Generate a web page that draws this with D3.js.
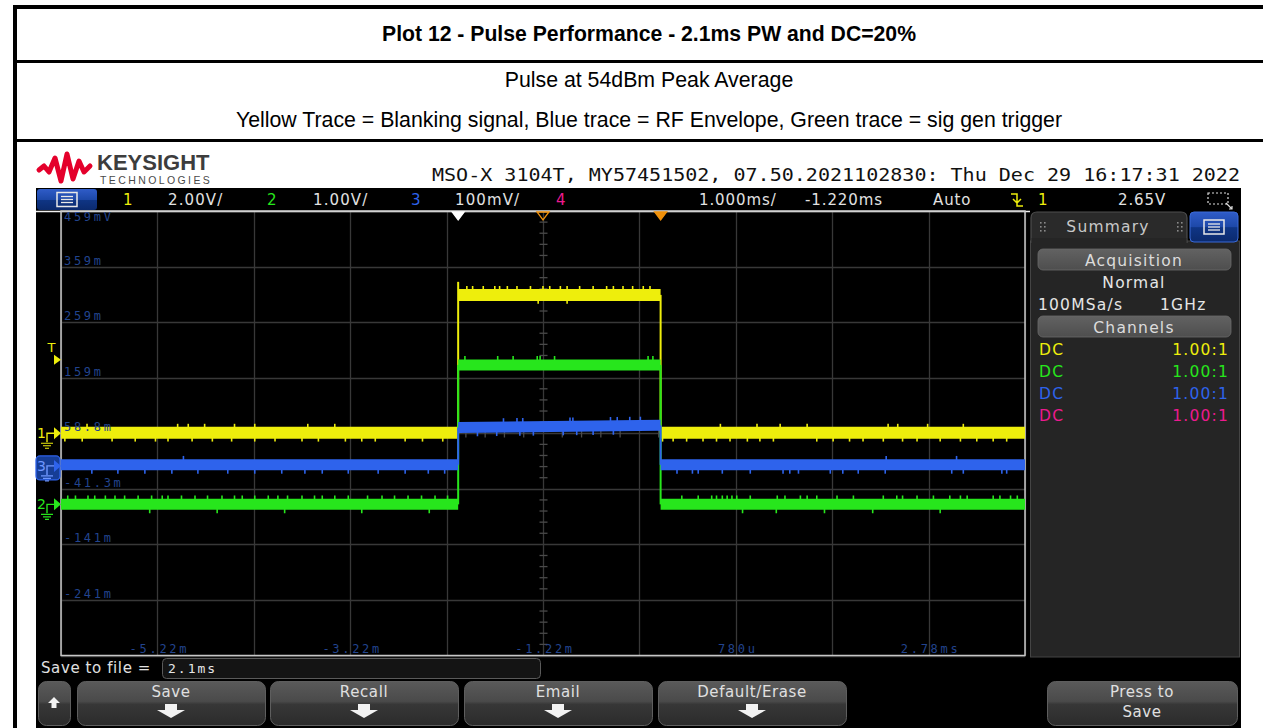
<!DOCTYPE html>
<html>
<head>
<meta charset="utf-8">
<script src="https://cdn.jsdelivr.net/npm/d3@7/dist/d3.min.js"></script>
<style>
html,body{margin:0;padding:0;background:#fff;overflow:hidden;}
svg{display:block;}
</style>
</head>
<body>
<svg id="chart" width="1263" height="728"></svg>
<script>
// ================= DATA =================
const titleText = "Plot 12 - Pulse Performance - 2.1ms PW and DC=20%";
const subtitleText = "Pulse at 54dBm Peak Average";
const legendText = "Yellow Trace = Blanking signal, Blue trace = RF Envelope, Green trace = sig gen trigger";
const instrumentText = "MSO-X 3104T, MY57451502, 07.50.2021102830: Thu Dec 29 16:17:31 2022";

const channelNames = ["1", "2", "3", "4"];
const channelScaleTexts = ["2.00V/", "1.00V/", "100mV/", ""];
const timebaseText = "1.000ms/";
const delayText = "-1.220ms";
const triggerModeText = "Auto";
const triggerSourceText = "1";
const triggerLevelText = "2.65V";

// horizontal: 1 ms/div, centre -1.22 ms, 10 divisions
const msPerDiv = 1.0;
const timeCentre = -1.22;
const timeTickValues = [-5.22, -3.22, -1.22, 0.78, 2.78];
const timeTickLabels = ["-5.22m", "-3.22m", "-1.22m", "780u", "2.78ms"];

// vertical: 8 divisions
const ch1VoltsPerDiv = 2.0, ch1Centre = 0.0;          // V
const ch2VoltsPerDiv = 1.0, ch2Centre = 1.28;         // V
const ch3MilliVoltsPerDiv = 100, ch3Centre = 58.8;    // mV
const ch3TickValues = [458.8, 358.8, 258.8, 158.8, 58.8, -41.3, -141.3, -241.3];
const ch3TickLabels = ["459mV", "359m", "259m", "159m", "58.8m", "-41.3m", "-141m", "-241m"];

const triggerLevel = 2.65;          // V on channel 1
const whiteMarkerTime = -2.10;      // ms
const delayMarkerTime = -1.22;      // ms
const triggerMarkerTime = 0.0;      // ms

// pulse: segment boundaries (ms) and levels per segment
const edgeTimes = [-6.22, -2.10, 0.00, 3.78];
const ch1Levels = [0.02, 4.98, 0.02];     // V  (yellow, blanking)
const ch1RisePeak = 5.45;                 // V  overshoot on rising edge
const ch2Levels = [0.0, 2.51, 0.0];       // V  (green, sig gen trigger)
const ch3LevelStart = [2, 69, 2];         // mV (blue, RF envelope) at segment start
const ch3LevelEnd = [2, 73, 2];           // mV at segment end

// glitches seen on the traces (ms)
const ch1SpikesDown = [-6.18,-6.00,-5.69,-5.45,-5.24,-5.11,-4.86,-4.65,-4.45,-4.21,-4.00,-3.72,-3.55,-3.27,-3.10,-2.96,-2.65,-2.47,-2.26,
  -1.27,-0.97, 0.02,0.13,0.27,0.44,0.58,0.72,0.90,1.03,1.17,1.62,1.79,1.96,2.10,2.31,2.51,2.66,2.90,3.11,3.28,3.45,3.59];
const ch1SpikesUp = [-5.95,-5.01,-4.90,-4.73,-4.42,-4.21,-3.66,-3.38,-2.01,-1.95,-1.84,-1.72,-1.67,-1.59,-1.49,-1.35,-1.22,-1.15,
  -1.04,-0.97,-0.84,-0.70,-0.56,-0.49,-0.39,-0.29,-0.18,-0.11,0.62,1.00,1.24,1.52,2.36,2.46,2.77,3.14];
const ch2SpikesUp = [-6.15,-6.07,-5.94,-5.87,-5.76,-5.66,-5.56,-5.42,-5.28,-5.17,-5.11,-4.97,-4.83,-4.70,-4.55,-4.42,-4.34,-4.21,
  -4.07,-3.97,-3.87,-3.72,-3.59,-3.51,-3.38,-3.24,-3.04,-2.89,-2.76,-2.62,-2.48,-2.34,-2.21,-2.03,-1.69,-1.53,-1.28,-1.25,-1.10,
  -0.13,-0.08,0.22,0.39,0.53,0.58,0.64,0.69,0.74,0.79,0.93,1.21,1.29,1.45,1.52,1.62,1.83,2.00,2.31,2.45,2.51,2.66,2.83,3.00,3.11,
  3.18,3.45,3.52,3.63,3.70];
const ch2SpikesDown = [-5.30,-4.60,-3.90,-3.10,-2.40,0.85,1.20,1.70,2.20,2.90];
const ch3SpikesDown = [-5.90,-5.63,-5.35,-5.07,-4.80,-4.49,-4.21,-3.93,-3.69,-3.51,-3.24,-2.93,-2.65,-2.41,-2.24,-1.90,-1.70,-1.46,
  -1.32,-1.01,-0.87,-0.70,-0.49,0.17,0.33,0.39,0.64,0.93,1.27,1.34,1.43,1.76,1.89,2.05,2.33,3.02,3.14,3.54,3.59];
const ch3SpikesUp = [-4.95,-1.63,-1.49,-1.43,-0.94,-0.91,-0.52,-0.45,-0.32,-0.21,2.34,3.07];
const ch1SpikeAmp = 0.32, ch2SpikeAmp = 0.16, ch3SpikeAmp = 16;

// summary panel
const summaryTitle = "Summary";
const acquisitionHeader = "Acquisition";
const acquisitionMode = "Normal";
const sampleRateText = "100MSa/s";
const bandwidthText = "1GHz";
const channelsHeader = "Channels";
const channelCoupling = ["DC", "DC", "DC", "DC"];
const channelProbeRatio = ["1.00:1", "1.00:1", "1.00:1", "1.00:1"];

// soft keys
const saveLabel = "Save to file =";
const saveFileName = "2.1ms";
const softKeyLabels = ["Save", "Recall", "Email", "Default/Erase"];
const pressToSaveLabel = ["Press to", "Save"];

// ================= DRAWING =================
const W = 1263, H = 728;
const COL = {
  yellow: "#eeee0c", green: "#27e61c", blue: "#2e63ec", magenta: "#ec1a8e",
  axis: "#22448e", grid: "#383838"
};
const UI = "'DejaVu Sans', 'Liberation Sans', sans-serif";
const MONO = "'DejaVu Sans Mono', 'Liberation Mono', monospace";
const ARIAL = "'Liberation Sans', Arial, sans-serif";

const svg = d3.select("#chart");
const defs = svg.append("defs");

function vgrad(id, stops) {
  const g = defs.append("linearGradient").attr("id", id).attr("x1", 0).attr("y1", 0).attr("x2", 0).attr("y2", 1);
  stops.forEach(s => g.append("stop").attr("offset", s[0]).attr("stop-color", s[1]));
}
vgrad("btnGrad", [["0%", "#5a5a5a"], ["45%", "#4a4a4a"], ["52%", "#373737"], ["100%", "#2b2b2b"]]);
vgrad("blueGrad", [["0%", "#2f5cc8"], ["50%", "#1d48a8"], ["52%", "#0f3585"], ["100%", "#0b2a6e"]]);
vgrad("pillGrad", [["0%", "#626262"], ["100%", "#4e4e4e"]]);

svg.append("rect").attr("width", W).attr("height", H).attr("fill", "#fff");

// ---------- header table ----------
const blk = (x0, y0, w, h) => svg.append("rect").attr("x", x0).attr("y", y0).attr("width", w).attr("height", h).attr("fill", "#000");
blk(13, 5, W - 13, 4);
blk(13, 5, 4, H - 5);
blk(13, 60, W - 13, 3);
blk(13, 139, W - 13, 3);

svg.append("text").attr("x", 649).attr("y", 41).attr("text-anchor", "middle")
  .attr("font-family", ARIAL).attr("font-weight", "bold").attr("font-size", 21.2).attr("fill", "#000").text(titleText);
svg.append("text").attr("x", 649).attr("y", 87).attr("text-anchor", "middle")
  .attr("font-family", ARIAL).attr("font-size", 21.3).attr("fill", "#000").text(subtitleText);
svg.append("text").attr("x", 649).attr("y", 127).attr("text-anchor", "middle")
  .attr("font-family", ARIAL).attr("font-size", 21.3).attr("fill", "#000").text(legendText);

// ---------- scope screen ----------
svg.append("rect").attr("x", 36).attr("y", 188).attr("width", 1205).attr("height", H - 188).attr("fill", "#000");

// logo
svg.append("path")
  .attr("d", "M39,170 L44,166 L49,172 L55,158 L61,181 L67,154 L73,179 L79,161 L84,172 L90,166")
  .attr("fill", "none").attr("stroke", "#e4002b").attr("stroke-width", 5).attr("stroke-linejoin", "round").attr("stroke-linecap", "round");
svg.append("text").attr("x", 97).attr("y", 170).attr("font-family", ARIAL).attr("font-weight", "bold")
  .attr("font-size", 22).attr("fill", "#3d3d3d").text("KEYSIGHT");
svg.append("text").attr("x", 100).attr("y", 184).attr("font-family", ARIAL)
  .attr("font-size", 10.5).attr("letter-spacing", 2.4).attr("fill", "#4a4a4a").text("TECHNOLOGIES");

svg.append("text").attr("x", 432).attr("y", 181).attr("font-family", MONO).attr("font-size", 17)
  .attr("textLength", 808).attr("lengthAdjust", "spacingAndGlyphs").attr("fill", "#111").text(instrumentText);

// menu icon helper
function menuIcon(cx, cy) {
  const g = svg.append("g");
  g.append("rect").attr("x", cx - 10).attr("y", cy - 7).attr("width", 20).attr("height", 14)
    .attr("fill", "none").attr("stroke", "#e8e8e8").attr("stroke-width", 1.5);
  [-3, 0, 3].forEach(d => g.append("line").attr("x1", cx - 6).attr("x2", cx + 6).attr("y1", cy + d).attr("y2", cy + d)
    .attr("stroke", "#e8e8e8").attr("stroke-width", 1.3));
}

// status bar
svg.append("rect").attr("x", 37).attr("y", 189).attr("width", 60).attr("height", 21).attr("rx", 3).attr("fill", "url(#blueGrad)");
menuIcon(67, 199.5);
const chCols = [COL.yellow, COL.green, COL.blue, COL.magenta];
const statusX = [[123, 168], [267, 313], [411, 455], [556, 600]];
channelNames.forEach((n, i) => {
  svg.append("text").attr("x", statusX[i][0]).attr("y", 205).attr("font-family", UI).attr("font-size", 15)
    .attr("fill", chCols[i]).text(n);
  svg.append("text").attr("x", statusX[i][1]).attr("y", 205).attr("font-family", UI).attr("font-size", 15)
    .attr("letter-spacing", 1.1).attr("fill", "#e2e2e2").text(channelScaleTexts[i]);
});
const stText = (x0, t, c, anchor) => svg.append("text").attr("x", x0).attr("y", 205).attr("font-family", UI)
  .attr("font-size", 15).attr("letter-spacing", 0.9).attr("fill", c).attr("text-anchor", anchor || "start").text(t);
stText(699, timebaseText, "#e2e2e2");
stText(805, delayText, "#e2e2e2");
stText(933, triggerModeText, "#e2e2e2");
stText(1038, triggerSourceText, COL.yellow);
stText(1118, triggerLevelText, "#e2e2e2");
// falling edge trigger icon
svg.append("path").attr("d", "M1011,194 L1017,194 L1017,206 L1023,206 M1013,199 L1017,203 L1021,199")
  .attr("fill", "none").attr("stroke", COL.yellow).attr("stroke-width", 1.5);
// zoom box icon
svg.append("rect").attr("x", 1208).attr("y", 193).attr("width", 20).attr("height", 11)
  .attr("fill", "none").attr("stroke", "#ddd").attr("stroke-width", 1.2).attr("stroke-dasharray", "2,2");
svg.append("path").attr("d", "M1226,203 L1232,209 M1229,209 L1232,209 L1232,206")
  .attr("fill", "none").attr("stroke", "#ddd").attr("stroke-width", 1.2);

// ---------- plot area ----------
const L = 61, R = 1025, T = 211, B = 655.5;
const x = d3.scaleLinear().domain([timeCentre - 5 * msPerDiv, timeCentre + 5 * msPerDiv]).range([L, R]);
const y1 = d3.scaleLinear().domain([ch1Centre - 4 * ch1VoltsPerDiv, ch1Centre + 4 * ch1VoltsPerDiv]).range([B, T]);
const y2 = d3.scaleLinear().domain([ch2Centre - 4 * ch2VoltsPerDiv, ch2Centre + 4 * ch2VoltsPerDiv]).range([B, T]);
const y3 = d3.scaleLinear().domain([ch3Centre - 4 * ch3MilliVoltsPerDiv, ch3Centre + 4 * ch3MilliVoltsPerDiv]).range([B, T]);

const grid = svg.append("g");
d3.range(-5, 6).forEach(k => {
  const xx = Math.round(x(timeCentre + k * msPerDiv)) + 0.5;
  grid.append("line").attr("x1", xx).attr("x2", xx).attr("y1", T).attr("y2", B).attr("stroke", COL.grid).attr("stroke-width", 1.3);
});
d3.range(-4, 5).forEach(k => {
  const yy = Math.round(y3(ch3Centre + k * ch3MilliVoltsPerDiv)) + 0.5;
  grid.append("line").attr("x1", L).attr("x2", R).attr("y1", yy).attr("y2", yy).attr("stroke", COL.grid).attr("stroke-width", 1.3);
});
// minor ticks on centre lines
const cx0 = Math.round(x(timeCentre)) + 0.5, cy0 = Math.round(y3(ch3Centre)) + 0.5;
d3.range(-20, 21).forEach(k => {
  if (k % 5 === 0) return;
  const yy = y3(ch3Centre + k * ch3MilliVoltsPerDiv / 5);
  grid.append("line").attr("x1", cx0 - 4).attr("x2", cx0 + 4).attr("y1", yy).attr("y2", yy).attr("stroke", "#4a4a4a").attr("stroke-width", 1.3);
});
d3.range(-25, 26).forEach(k => {
  if (k % 5 === 0) return;
  const xx = x(timeCentre + k * msPerDiv / 5);
  grid.append("line").attr("x1", xx).attr("x2", xx).attr("y1", cy0 - 4).attr("y2", cy0 + 4).attr("stroke", "#4a4a4a").attr("stroke-width", 1.3);
});
// frame
svg.append("line").attr("x1", 36).attr("x2", 1030).attr("y1", T + 0.5).attr("y2", T + 0.5).attr("stroke", "#f0f0f0").attr("stroke-width", 1.5);
svg.append("rect").attr("x", L).attr("y", T).attr("width", R - L).attr("height", B - T)
  .attr("fill", "none").attr("stroke", "#c8c8c8").attr("stroke-width", 1.5);

// ---------- traces ----------
function levelAt(t, ls, le) {
  for (let i = 0; i < edgeTimes.length - 1; i++) {
    if (t >= edgeTimes[i] && t <= edgeTimes[i + 1]) {
      return ls[i] + (le[i] - ls[i]) * (t - edgeTimes[i]) / (edgeTimes[i + 1] - edgeTimes[i]);
    }
  }
  return ls[0];
}
function drawChannel(ys, ls, le, color, bandW, spikesUp, spikesDown, amp, risePeak) {
  const g = svg.append("g");
  for (let i = 1; i < edgeTimes.length - 1; i++) {
    const xe = x(edgeTimes[i]);
    const from = le[i - 1], to = ls[i];
    const top = (risePeak !== undefined && to > from) ? risePeak : to;
    g.append("line").attr("x1", xe).attr("x2", xe).attr("y1", ys(from)).attr("y2", ys(top))
      .attr("stroke", color).attr("stroke-width", 2);
  }
  const sp = (t, dir) => {
    const v = levelAt(t, ls, le);
    g.append("line").attr("x1", x(t)).attr("x2", x(t)).attr("y1", ys(v)).attr("y2", ys(v + dir * amp))
      .attr("stroke", color).attr("stroke-width", 1.6);
  };
  spikesUp.forEach(t => sp(t, 1));
  spikesDown.forEach(t => sp(t, -1));
  for (let i = 0; i < edgeTimes.length - 1; i++) {
    g.append("line").attr("x1", x(edgeTimes[i])).attr("x2", x(edgeTimes[i + 1]))
      .attr("y1", ys(ls[i])).attr("y2", ys(le[i]))
      .attr("stroke", color).attr("stroke-width", bandW);
  }
}
drawChannel(y1, ch1Levels, ch1Levels, COL.yellow, 12, ch1SpikesUp, ch1SpikesDown, ch1SpikeAmp, ch1RisePeak);
drawChannel(y2, ch2Levels, ch2Levels, COL.green, 11, ch2SpikesUp, ch2SpikesDown, ch2SpikeAmp);
drawChannel(y3, ch3LevelStart, ch3LevelEnd, COL.blue, 11, ch3SpikesUp, ch3SpikesDown, ch3SpikeAmp);

// ---------- axis labels ----------
ch3TickValues.forEach((v, i) => {
  svg.append("text").attr("x", L + 3).attr("y", Math.max(y3(v) - 2, T + 10))
    .attr("font-family", MONO).attr("font-size", 12).attr("letter-spacing", 2.7)
    .attr("fill", COL.axis).text(ch3TickLabels[i]);
});
timeTickValues.forEach((v, i) => {
  svg.append("text").attr("x", x(v) + 2).attr("y", B - 3).attr("text-anchor", "middle")
    .attr("font-family", MONO).attr("font-size", 12).attr("letter-spacing", 2.7)
    .attr("fill", COL.axis).text(timeTickLabels[i]);
});

// ---------- top markers ----------
const tri = (xc, fill, stroke) => svg.append("path")
  .attr("d", `M${xc - 6},${T + 1} L${xc + 6},${T + 1} L${xc},${T + 9} Z`)
  .attr("fill", fill).attr("stroke", stroke).attr("stroke-width", 1.3);
tri(x(whiteMarkerTime), "#ffffff", "#ffffff");
tri(x(delayMarkerTime), "none", "#f0900a");
tri(x(triggerMarkerTime), "#f0900a", "#f0900a");

// ---------- left channel markers ----------
function groundMarker(yy, label, color, boxed) {
  const g = svg.append("g");
  if (boxed) {
    g.append("rect").attr("x", 36).attr("y", yy - 10).attr("width", 24).attr("height", 24).attr("rx", 4)
      .attr("fill", "#163d96").attr("stroke", color).attr("stroke-width", 1.3);
  }
  g.append("text").attr("x", 37).attr("y", yy + 5).attr("font-family", UI).attr("font-size", 14)
    .attr("fill", boxed ? "#6f96ff" : color).text(label);
  const c = boxed ? "#6f96ff" : color;
  g.append("path").attr("d", `M47,${yy + 9} L47,${yy} L54,${yy}`).attr("fill", "none").attr("stroke", c).attr("stroke-width", 1.4);
  g.append("path").attr("d", `M41,${yy + 10} L53,${yy + 10} M43,${yy + 12.5} L51,${yy + 12.5} M45,${yy + 15} L49,${yy + 15}`)
    .attr("fill", "none").attr("stroke", c).attr("stroke-width", 1.2);
  g.append("path").attr("d", `M54,${yy - 6} L61,${yy} L54,${yy + 6} Z`).attr("fill", color);
}
groundMarker(y1(0), channelNames[0], COL.yellow, false);
groundMarker(y3(0), channelNames[2], COL.blue, true);
groundMarker(y2(0), channelNames[1], COL.green, false);
const yt = y1(triggerLevel);
svg.append("text").attr("x", 47.5).attr("y", yt - 8).attr("font-family", UI).attr("font-size", 13).attr("fill", COL.yellow).text("T");
svg.append("path").attr("d", `M54,${yt - 5} L61,${yt} L54,${yt + 5} Z`).attr("fill", COL.yellow);

// ---------- summary panel ----------
const P = svg.append("g");
P.append("rect").attr("x", 1030.5).attr("y", 241).attr("width", 209).attr("height", 416)
  .attr("fill", "#252525").attr("stroke", "#454545").attr("stroke-width", 1);
P.append("path").attr("d", "M1031,243 L1031,218 Q1031,212 1037,212 L1181,212 Q1187,212 1187,218 L1187,243")
  .attr("fill", "#2a2a2a").attr("stroke", "#4e4e4e").attr("stroke-width", 1.2);
P.append("rect").attr("x", 1031.6).attr("y", 238).attr("width", 154.8).attr("height", 6).attr("fill", "#252525");
[1040, 1177].forEach(gx => {
  [0, 4].forEach(dx => [0, 4, 8].forEach(dy =>
    P.append("rect").attr("x", gx + dx).attr("y", 222 + dy).attr("width", 1.6).attr("height", 1.6).attr("fill", "#8a8a8a")));
});
P.append("text").attr("x", 1108).attr("y", 232).attr("text-anchor", "middle").attr("font-family", UI).attr("font-size", 15.5)
  .attr("letter-spacing", 1.2).attr("fill", "#c8c8c8").text(summaryTitle);
P.append("rect").attr("x", 1190).attr("y", 212).attr("width", 48).attr("height", 30).attr("rx", 4).attr("fill", "url(#blueGrad)")
  .attr("stroke", "#3a6ad8").attr("stroke-width", 1);
menuIcon(1214, 227);

const pill = (y0, label) => {
  P.append("rect").attr("x", 1038).attr("y", y0).attr("width", 193).attr("height", 21).attr("rx", 5)
    .attr("fill", "url(#pillGrad)").attr("stroke", "#6a6a6a").attr("stroke-width", 0.8);
  P.append("text").attr("x", 1134).attr("y", y0 + 17).attr("text-anchor", "middle").attr("font-family", UI)
    .attr("font-size", 15.5).attr("letter-spacing", 1.2).attr("fill", "#dcdcdc").text(label);
};
pill(249, acquisitionHeader);
P.append("text").attr("x", 1134).attr("y", 288).attr("text-anchor", "middle").attr("font-family", UI)
  .attr("font-size", 15.5).attr("letter-spacing", 1.2).attr("fill", "#e6e6e6").text(acquisitionMode);
P.append("text").attr("x", 1038).attr("y", 310).attr("font-family", UI)
  .attr("font-size", 15.5).attr("letter-spacing", 1.2).attr("fill", "#e6e6e6").text(sampleRateText);
P.append("text").attr("x", 1160).attr("y", 310).attr("font-family", UI)
  .attr("font-size", 15.5).attr("letter-spacing", 1.2).attr("fill", "#e6e6e6").text(bandwidthText);
pill(316, channelsHeader);
channelCoupling.forEach((c, i) => {
  const yy = 355 + i * 22;
  P.append("text").attr("x", 1039).attr("y", yy).attr("font-family", UI).attr("font-size", 15.5)
    .attr("letter-spacing", 1.2).attr("fill", chCols[i]).text(c);
  P.append("text").attr("x", 1229).attr("y", yy).attr("text-anchor", "end").attr("font-family", UI).attr("font-size", 15.5)
    .attr("letter-spacing", 1.2).attr("fill", chCols[i]).text(channelProbeRatio[i]);
});

// ---------- bottom: save row & soft keys ----------
svg.append("text").attr("x", 41).attr("y", 673).attr("font-family", UI).attr("font-size", 15)
  .attr("letter-spacing", 0.6).attr("fill", "#e0e0e0").text(saveLabel);
svg.append("rect").attr("x", 162.5).attr("y", 658.5).attr("width", 378).attr("height", 20).attr("rx", 4)
  .attr("fill", "#141414").attr("stroke", "#5a5a5a").attr("stroke-width", 1);
svg.append("text").attr("x", 168).attr("y", 673).attr("font-family", MONO).attr("font-size", 13)
  .attr("letter-spacing", 2).attr("fill", "#e6e6e6").text(saveFileName);

function button(x0, w) {
  svg.append("rect").attr("x", x0 + 0.5).attr("y", 681.5).attr("width", w).attr("height", 44).attr("rx", 8)
    .attr("fill", "url(#btnGrad)").attr("stroke", "#5e5e5e").attr("stroke-width", 1);
}
function downArrow(cx) {
  svg.append("path").attr("d", `M${cx - 6},704 L${cx + 6},704 L${cx + 6},710 L${cx + 14},710 L${cx},718 L${cx - 14},710 L${cx - 6},710 Z`)
    .attr("fill", "#f2f2f2");
}
button(38, 32);
svg.append("path").attr("d", "M54,697 L60,703 L56.5,703 L56.5,708 L51.5,708 L51.5,703 L48,703 Z").attr("fill", "#f2f2f2");
const keyX = [77, 270, 464, 658];
softKeyLabels.forEach((lab, i) => {
  button(keyX[i], 188);
  svg.append("text").attr("x", keyX[i] + 94).attr("y", 697).attr("text-anchor", "middle").attr("font-family", UI)
    .attr("font-size", 15).attr("letter-spacing", 0.6).attr("fill", "#e0e0e0").text(lab);
  downArrow(keyX[i] + 94);
});
button(1047, 190);
pressToSaveLabel.forEach((lab, i) => {
  svg.append("text").attr("x", 1142).attr("y", 697 + i * 20).attr("text-anchor", "middle").attr("font-family", UI)
    .attr("font-size", 15).attr("letter-spacing", 0.6).attr("fill", "#e0e0e0").text(lab);
});
</script>
</body>
</html>
